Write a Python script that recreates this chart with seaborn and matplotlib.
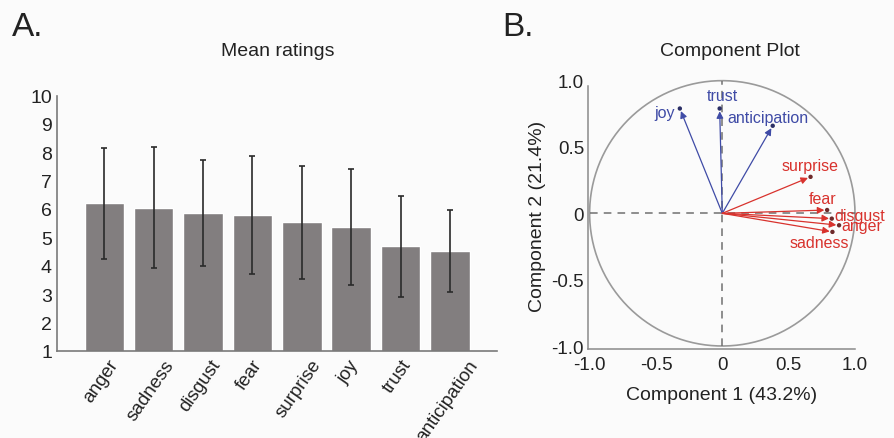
import matplotlib
matplotlib.use('Agg')
import matplotlib.pyplot as plt
import matplotlib.transforms as mtransforms
import seaborn as sns
import numpy as np
import pandas as pd

sns.set_style('white')
plt.rcParams['font.family'] = ['Liberation Sans', 'DejaVu Sans']

## panel A data: mean ratings with SD
emotions = ['anger', 'sadness', 'disgust', 'fear', 'surprise', 'joy', 'trust', 'anticipation']
mean_rating = [6.2, 6.05, 5.85, 5.8, 5.53, 5.37, 4.68, 4.52]
sd_rating = [1.95, 2.12, 1.87, 2.08, 2.0, 2.05, 1.77, 1.45]

## panel B data: component loadings
pc_labels = ['joy', 'trust', 'anticipation', 'surprise', 'fear', 'disgust', 'anger', 'sadness']
pc1 = [-0.32, -0.02, 0.38, 0.665, 0.79, 0.825, 0.88, 0.83]
pc2 = [0.79, 0.79, 0.66, 0.275, 0.025, -0.04, -0.09, -0.14]
pc_group = ['pos', 'pos', 'pos', 'neg', 'neg', 'neg', 'neg', 'neg']

# label placement (layout only)
label_pos = {
    'joy': (-0.36, 0.76, 'right'),
    'trust': (0.0, 0.885, 'center'),
    'anticipation': (0.04, 0.72, 'left'),
    'surprise': (0.66, 0.36, 'center'),
    'fear': (0.755, 0.11, 'center'),
    'disgust': (0.845, -0.02, 'left'),
    'anger': (0.895, -0.09, 'left'),
    'sadness': (0.73, -0.22, 'center'),
}

blue = '#3f4ba6'
red = '#d8322d'
bg = '#fbfbfb'

fig = plt.figure(figsize=(8.95, 4.39), dpi=100, facecolor=bg)

## ---------- A. Mean ratings ----------
axA = fig.add_axes([0.0642, 0.1989, 0.491, 0.581])
axA.set_facecolor(bg)
dfA = pd.DataFrame({'emotion': emotions, 'rating': mean_rating})
sns.barplot(data=dfA, x='emotion', y='rating', color='#827e7f', saturation=1,
            width=0.8, errorbar=None, ax=axA)
axA.errorbar(np.arange(len(emotions)), mean_rating, yerr=sd_rating, fmt='none',
             ecolor='#2a2a2a', elinewidth=1.2, capsize=2.2, capthick=1.2)
axA.set_ylim(1, 10)
axA.set_xlim(-0.95, 7.95)
axA.set_yticks(range(1, 11))
axA.set_xlabel('')
axA.set_ylabel('')
axA.tick_params(axis='y', length=0, labelsize=14, colors='#222222', pad=4)
axA.tick_params(axis='x', length=0, labelsize=13.5, colors='#222222', pad=4)
axA.set_xticks(range(len(emotions)))
axA.set_xticklabels(emotions, rotation=55, ha='center', va='top')
offset = mtransforms.ScaledTranslation(-3 / 100, 0, fig.dpi_scale_trans)
for lbl in axA.get_xticklabels():
    lbl.set_transform(lbl.get_transform() + offset)
for side in ['top', 'right']:
    axA.spines[side].set_visible(False)
for side in ['left', 'bottom']:
    axA.spines[side].set_color('#7a7a7a')
    axA.spines[side].set_linewidth(1.2)

fig.text(278 / 895, 1 - 51 / 439, 'Mean ratings', ha='center', va='center', fontsize=14, color='#222222')
fig.text(12 / 895, 1 - 28 / 439, 'A.', ha='left', va='center', fontsize=24, color='#222222')

## ---------- B. Component Plot ----------
axB = fig.add_axes([0.6573, 0.2020, 0.298, 0.612])
axB.set_facecolor(bg)
axB.set_xlim(-1.01, 1.0)
axB.set_ylim(-1.025, 1.0)

theta = np.linspace(0, 2 * np.pi, 400)
axB.plot(np.cos(theta), np.sin(theta), color='#9a9a9a', lw=1.2, clip_on=False)
axB.plot([-1, 1], [0, 0], color='#707070', lw=1.1, ls=(0, (5, 4)))
axB.plot([0, 0], [-1, 1], color='#707070', lw=1.1, ls=(0, (5, 4)), clip_on=False)

colors = {'pos': blue, 'neg': red}
for name, x, y, g in zip(pc_labels, pc1, pc2, pc_group):
    axB.annotate('', xy=(x, y), xytext=(0, 0),
                 arrowprops=dict(arrowstyle='-|>', color=colors[g], lw=0.9,
                                 mutation_scale=10, shrinkA=0, shrinkB=2))
    lx, ly, ha = label_pos[name]
    axB.text(lx, ly, name, color=colors[g], fontsize=11.5, ha=ha, va='center')

dfB = pd.DataFrame({'pc1': pc1, 'pc2': pc2, 'group': pc_group})
sns.scatterplot(data=dfB, x='pc1', y='pc2', hue='group',
                palette={'pos': '#2b2f66', 'neg': '#6e2a2a'}, s=10, edgecolor='none',
                legend=False, ax=axB, zorder=5, clip_on=False)

axB.set_xticks([-1, -0.5, 0, 0.5, 1])
axB.set_xticklabels(['-1.0', '-0.5', '0', '0.5', '1.0'])
axB.set_yticks([-1, -0.5, 0, 0.5, 1])
axB.set_yticklabels(['-1.0', '-0.5', '0', '0.5', '1.0'])
axB.tick_params(axis='y', length=0, labelsize=13.5, colors='#222222', pad=3)
axB.tick_params(axis='x', length=0, labelsize=13.5, colors='#222222', pad=5)
axB.set_xlabel('Component 1 (43.2%)', fontsize=14, color='#222222', labelpad=9)
axB.set_ylabel('Component 2 (21.4%)', fontsize=14, color='#222222', labelpad=4)
for side in ['top', 'right']:
    axB.spines[side].set_visible(False)
for side in ['left', 'bottom']:
    axB.spines[side].set_color('#8a8a8a')
    axB.spines[side].set_linewidth(1.1)
axB.spines['left'].set_bounds(-1.025, 0.96)

fig.text(730 / 895, 1 - 51 / 439, 'Component Plot', ha='center', va='center', fontsize=14, color='#222222')
fig.text(502 / 895, 1 - 28 / 439, 'B.', ha='left', va='center', fontsize=24, color='#222222')

fig.savefig('out.png', dpi=100, facecolor=bg)
